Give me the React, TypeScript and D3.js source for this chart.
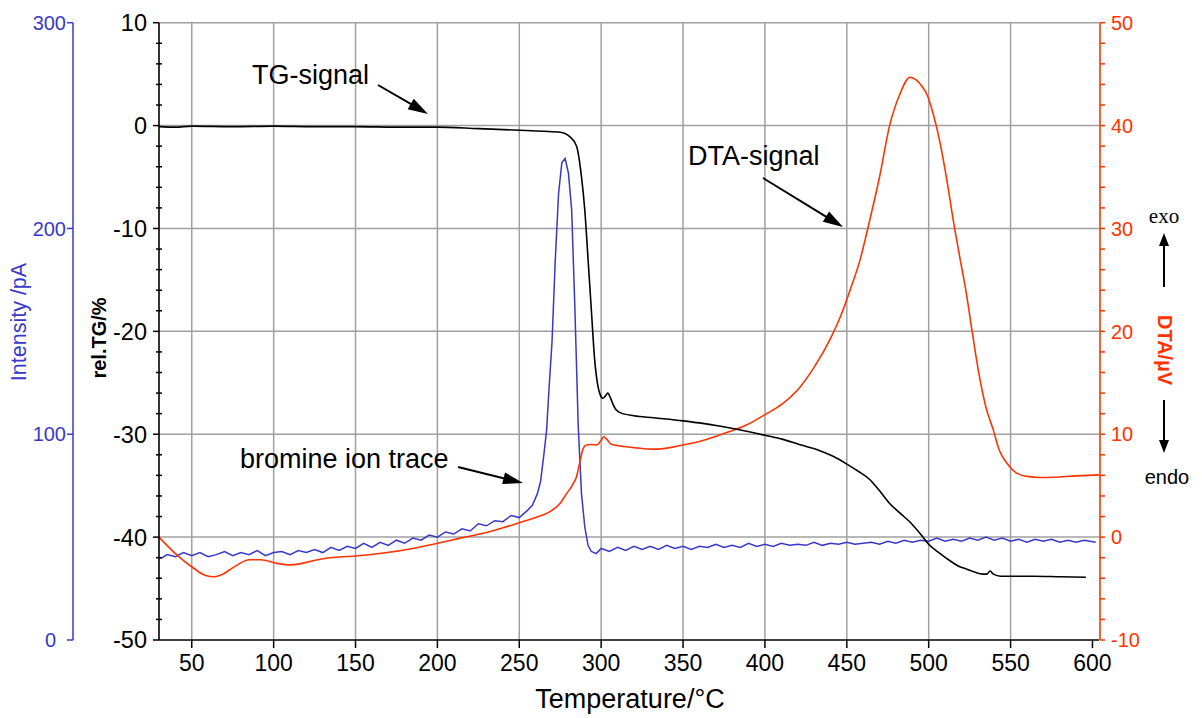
import React, { useRef, useEffect } from 'react';
import * as d3 from 'd3';

// axis ticks
const tempTicks = [50, 100, 150, 200, 250, 300, 350, 400, 450, 500, 550, 600];
const tgTicks = [10, 0, -10, -20, -30, -40, -50];
const dtaTicks = [50, 40, 30, 20, 10, 0, -10];
const intensityTicks = [0, 100, 200, 300];

// rel. TG in % vs temperature in °C
const tgSignal: [number, number][] = [
  [30, -0.1], [40, -0.15], [50, -0.05], [75, -0.1], [100, -0.05], [125, -0.1], [150, -0.1],
  [175, -0.15], [200, -0.15], [225, -0.3], [250, -0.45], [265, -0.55], [275, -0.65],
  [281, -1.1], [285, -2.0], [288, -5.0], [290, -8.2], [292, -13], [294, -17.9],
  [296, -22.7], [298, -25.3], [299.5, -26.2], [301, -26.5], [302.5, -26.3], [304, -26],
  [305.5, -26.4], [307, -27], [309, -27.6], [311.5, -27.9], [320, -28.2], [332, -28.4],
  [350, -28.7], [360, -28.9], [372, -29.2], [382, -29.5], [400, -30.1], [411, -30.5],
  [421, -31.0], [432, -31.5], [441, -32.1], [450, -32.9], [457, -33.6], [464, -34.4],
  [470, -35.5], [476, -36.7], [482, -37.6], [489, -38.6], [495, -39.7], [500, -40.7],
  [507, -41.6], [513, -42.3], [518, -42.8], [523, -43.1], [528, -43.4], [533, -43.6],
  [535.5, -43.6], [537.5, -43.3], [539.5, -43.6], [544, -43.8], [555, -43.8],
  [564, -43.8], [580, -43.85], [596, -43.9]
];

// DTA in µV vs temperature in °C
const dtaSignal: [number, number][] = [
  [30, 0.0], [40, -1.6], [51, -3.0], [58, -3.7], [64, -3.85], [69, -3.6], [73, -3.2],
  [79, -2.6], [85, -2.2], [92, -2.2], [102, -2.55], [110, -2.7], [116, -2.6],
  [124, -2.3], [132, -2.06], [150, -1.84], [167, -1.55], [185, -1.1], [200, -0.6],
  [214, -0.1], [228, 0.37], [240, 0.9], [250, 1.4], [260, 1.9], [269, 2.5], [275, 3.3],
  [279, 4.25], [283, 5.2], [285, 5.9], [287, 7.3], [289, 8.6], [291, 8.95],
  [294, 9.0], [297.3, 8.96], [300, 9.4], [301.7, 9.75], [303.5, 9.5], [306, 9.05],
  [310, 8.9], [320, 8.7], [332, 8.55], [342, 8.7], [350, 8.96], [360, 9.3],
  [372, 9.9], [381, 10.4], [390, 11.0], [400, 11.9], [411, 13.0], [421, 14.5],
  [430, 16.5], [440, 19.3], [446, 21.4], [452, 24.0], [458, 26.9], [464, 30.8], [470, 35.0],
  [476, 39.9], [482.5, 43.1], [488.6, 44.7], [492.7, 44.4], [496, 43.8], [499, 43.0],
  [503, 41.0], [507, 38.3], [511, 34.8], [515, 30.8], [519, 27.2], [523, 23.7],
  [527, 19.5], [531, 15.6], [535, 12.6], [539.5, 10.4], [543, 8.5], [547.7, 7.2],
  [553, 6.3], [560, 5.9], [568, 5.8], [576, 5.82], [590, 5.95], [604, 6.05]
];

// bromine ion current in pA vs temperature in °C
const bromineTrace: [number, number][] = [
  [31, 39.5], [35, 41.5], [40, 40.5], [45, 42.5], [50, 41], [55, 42.5], [60, 40.5],
  [65, 41.5], [70, 43], [75, 41], [80, 42.5], [85, 41.5], [90, 43.5], [95, 41],
  [100, 42.5], [105, 43], [110, 41.5], [115, 43.5], [120, 42.5], [125, 44], [130, 42.5],
  [135, 45], [140, 43.5], [145, 45.5], [150, 44.5], [155, 47], [160, 45], [165, 47.5],
  [170, 46], [175, 48.5], [180, 47], [185, 49.5], [190, 48.5], [195, 51], [200, 50],
  [205, 52.5], [210, 51.5], [215, 54], [220, 53], [225, 56.5], [230, 55.5], [235, 58],
  [240, 57.5], [245, 60.5], [250, 59.5], [255, 63], [258, 65.5], [261, 71], [263, 77],
  [265, 90], [266.7, 102], [268, 120], [270, 145], [272, 185], [274, 217], [276, 232],
  [278, 234], [280, 227], [282, 209], [284, 160], [286, 104], [288, 71], [290, 55],
  [292, 46], [294, 43], [297, 42], [300, 44.5], [305, 43], [310, 45], [315, 43.5],
  [320, 45.5], [325, 44], [330, 45.5], [335, 44], [340, 46], [345, 44.5], [350, 45.5],
  [355, 44], [360, 45.5], [365, 45], [370, 46.5], [375, 45], [380, 46], [385, 45],
  [390, 47], [395, 45.5], [400, 46.5], [405, 45.5], [410, 47], [415, 46], [420, 46.5],
  [425, 46], [430, 47.5], [435, 46], [440, 47], [445, 46.5], [450, 47.5], [455, 46.5],
  [460, 47], [465, 47.5], [470, 46.5], [475, 48], [480, 47], [485, 48.5], [490, 47.5],
  [495, 48.5], [500, 48], [505, 49.5], [510, 48], [515, 49], [520, 48], [525, 49.5],
  [530, 48.5], [535, 50], [540, 48.5], [545, 49.5], [550, 48], [555, 49], [560, 47.5],
  [565, 49], [570, 48], [575, 49], [580, 47.5], [585, 48.5], [590, 47.5], [595, 48.5],
  [602, 47.5]
];

const SANS = '"Liberation Sans", Arial, sans-serif';
const SERIF = '"Liberation Serif", "Times New Roman", serif';
const BLUE = '#3838c8';
const RED = '#ff3300';
const GRID = '#a0a0a0';

const App = () => {
  const svgRef = useRef<SVGSVGElement>(null);

  useEffect(() => {
    const left = 159, right = 1099, top = 22.7, bottom = 640;

    const svg = d3.select(svgRef.current);
    svg.selectAll('*').remove();
    svg.append('rect').attr('width', 1202).attr('height', 718).attr('fill', '#fff');

    const x = d3.scaleLinear().domain([30, 604]).range([left, right]);
    const yTG = d3.scaleLinear().domain([-50, 10]).range([bottom, top]);
    const yDTA = d3.scaleLinear().domain([-10, 50]).range([bottom, top]);
    const yInt = d3.scaleLinear().domain([0, 300]).range([bottom, top]);

    // grid
    const grid = svg.append('g').attr('stroke', GRID).attr('stroke-width', 1.5);
    grid.selectAll('.vg')
      .data(tempTicks.filter(t => t < 600))
      .enter().append('line')
      .attr('x1', d => x(d)).attr('x2', d => x(d))
      .attr('y1', top).attr('y2', bottom);
    grid.selectAll('.hg')
      .data(tgTicks.filter(t => t > -50))
      .enter().append('line')
      .attr('x1', left).attr('x2', right)
      .attr('y1', d => yTG(d)).attr('y2', d => yTG(d));

    // curves
    const lineTG = d3.line<[number, number]>()
      .x(d => x(d[0])).y(d => yTG(d[1])).curve(d3.curveMonotoneX);
    const lineDTA = d3.line<[number, number]>()
      .x(d => x(d[0])).y(d => yDTA(d[1])).curve(d3.curveMonotoneX);
    const lineInt = d3.line<[number, number]>()
      .x(d => x(d[0])).y(d => yInt(d[1]));

    svg.append('path').attr('d', lineInt(bromineTrace))
      .attr('fill', 'none').attr('stroke', BLUE).attr('stroke-width', 1.5);
    svg.append('path').attr('d', lineDTA(dtaSignal))
      .attr('fill', 'none').attr('stroke', RED).attr('stroke-width', 1.6);
    svg.append('path').attr('d', lineTG(tgSignal))
      .attr('fill', 'none').attr('stroke', '#000').attr('stroke-width', 1.6);

    // left TG axis
    const tgAxis = svg.append('g');
    tgAxis.append('line').attr('x1', left).attr('x2', left)
      .attr('y1', top).attr('y2', bottom).attr('stroke', '#000').attr('stroke-width', 1.6);
    tgAxis.selectAll('.mn').data(d3.range(-50, 10.01, 2))
      .enter().append('line')
      .attr('x1', d => (d % 10 === 0 ? left - 6 : left - 3)).attr('x2', d => (d % 10 === 0 ? left : left + 3))
      .attr('y1', d => yTG(d)).attr('y2', d => yTG(d))
      .attr('stroke', '#000').attr('stroke-width', 1.5);
    tgAxis.selectAll('text').data(tgTicks)
      .enter().append('text')
      .attr('x', left - 12).attr('y', d => yTG(d)).attr('dy', '0.36em')
      .attr('text-anchor', 'end')
      .style('font-family', SANS).style('font-size', '23.5px')
      .text(d => d);

    // bottom temperature axis
    const xAxis = svg.append('g');
    xAxis.append('line').attr('x1', left).attr('x2', right)
      .attr('y1', bottom).attr('y2', bottom).attr('stroke', '#000').attr('stroke-width', 1.6);
    xAxis.selectAll('.tk').data(tempTicks)
      .enter().append('line')
      .attr('x1', d => x(d)).attr('x2', d => x(d))
      .attr('y1', bottom).attr('y2', bottom + 8)
      .attr('stroke', '#000').attr('stroke-width', 1.5);
    xAxis.selectAll('text').data(tempTicks)
      .enter().append('text')
      .attr('x', d => x(d)).attr('y', 671)
      .attr('text-anchor', 'middle')
      .style('font-family', SANS).style('font-size', '23px')
      .text(d => d);

    // right DTA axis
    const dtaAxis = svg.append('g');
    dtaAxis.append('line').attr('x1', right + 1).attr('x2', right + 1)
      .attr('y1', top).attr('y2', bottom).attr('stroke', RED).attr('stroke-width', 1.6);
    dtaAxis.selectAll('.mn').data(d3.range(-10, 50.01, 2))
      .enter().append('line')
      .attr('x1', right + 1).attr('x2', right + 6)
      .attr('y1', d => yDTA(d)).attr('y2', d => yDTA(d))
      .attr('stroke', RED).attr('stroke-width', 1.5);
    dtaAxis.selectAll('text').data(dtaTicks)
      .enter().append('text')
      .attr('x', right + 12).attr('y', d => yDTA(d)).attr('dy', '0.36em')
      .attr('fill', RED)
      .style('font-family', SANS).style('font-size', '20px')
      .text(d => d);

    // far-left intensity axis
    const intX = 73;
    const intAxis = svg.append('g');
    intAxis.append('line').attr('x1', intX).attr('x2', intX)
      .attr('y1', top).attr('y2', bottom).attr('stroke', BLUE).attr('stroke-width', 1.5);
    intAxis.selectAll('.tk').data(intensityTicks)
      .enter().append('line')
      .attr('x1', intX - 6).attr('x2', intX)
      .attr('y1', d => yInt(d)).attr('y2', d => yInt(d))
      .attr('stroke', BLUE).attr('stroke-width', 1.5);
    intAxis.selectAll('text').data(intensityTicks)
      .enter().append('text')
      .attr('x', d => (d === 0 ? intX - 17 : intX - 7)).attr('y', d => yInt(d)).attr('dy', '0.36em')
      .attr('text-anchor', 'end').attr('fill', BLUE)
      .style('font-family', SANS).style('font-size', '20px')
      .text(d => d);

    // axis titles
    svg.append('text')
      .attr('transform', 'translate(106,338) rotate(-90)')
      .attr('text-anchor', 'middle')
      .style('font-family', SANS).style('font-size', '20px').style('font-weight', 'bold')
      .text('rel.TG/%');
    svg.append('text')
      .attr('transform', 'translate(26,322) rotate(-90)')
      .attr('text-anchor', 'middle').attr('fill', BLUE)
      .style('font-family', SANS).style('font-size', '21.5px')
      .text('Intensity /pA');
    svg.append('text')
      .attr('transform', 'translate(1158,350) rotate(90)')
      .attr('text-anchor', 'middle').attr('fill', RED)
      .style('font-family', SANS).style('font-size', '20px').style('font-weight', 'bold')
      .text('DTA/µV');
    svg.append('text')
      .attr('x', 630).attr('y', 708)
      .attr('text-anchor', 'middle')
      .style('font-family', SANS).style('font-size', '27px')
      .text('Temperature/°C');

    // arrows
    const arrow = (x1: number, y1: number, x2: number, y2: number, len: number, hw: number, sw: number) => {
      const dx = x2 - x1, dy = y2 - y1;
      const l = Math.hypot(dx, dy);
      const ux = dx / l, uy = dy / l;
      const bx = x2 - ux * len, by = y2 - uy * len;
      svg.append('line').attr('x1', x1).attr('y1', y1).attr('x2', bx + ux).attr('y2', by + uy)
        .attr('stroke', '#000').attr('stroke-width', sw);
      svg.append('polygon')
        .attr('points', `${x2},${y2} ${bx - uy * hw},${by + ux * hw} ${bx + uy * hw},${by - ux * hw}`)
        .attr('fill', '#000');
    };

    const note = (tx: number, ty: number, s: string) => {
      svg.append('text').attr('x', tx).attr('y', ty)
        .style('font-family', SANS).style('font-size', '27px').text(s);
    };

    note(252, 84, 'TG-signal');
    arrow(378, 85, 428, 114, 20, 6, 2);
    note(688, 165, 'DTA-signal');
    arrow(763, 178, 843, 227, 20, 6, 2);
    note(240, 468, 'bromine ion trace');
    arrow(458, 467, 523, 483, 20, 6, 2);

    // exo / endo
    svg.append('text').attr('x', 1164).attr('y', 223).attr('text-anchor', 'middle')
      .style('font-family', SERIF).style('font-size', '21px').text('exo');
    arrow(1164, 287, 1164, 233, 13, 5, 2);
    arrow(1164, 400, 1164, 453, 13, 5, 2);
    svg.append('text').attr('x', 1167).attr('y', 484).attr('text-anchor', 'middle')
      .style('font-family', SANS).style('font-size', '20px').text('endo');
  }, []);

  return (
    <svg ref={svgRef} width={1202} height={718}
      style={{ position: 'absolute', left: 0, top: 0, display: 'block' }} />
  );
};

export default App;
